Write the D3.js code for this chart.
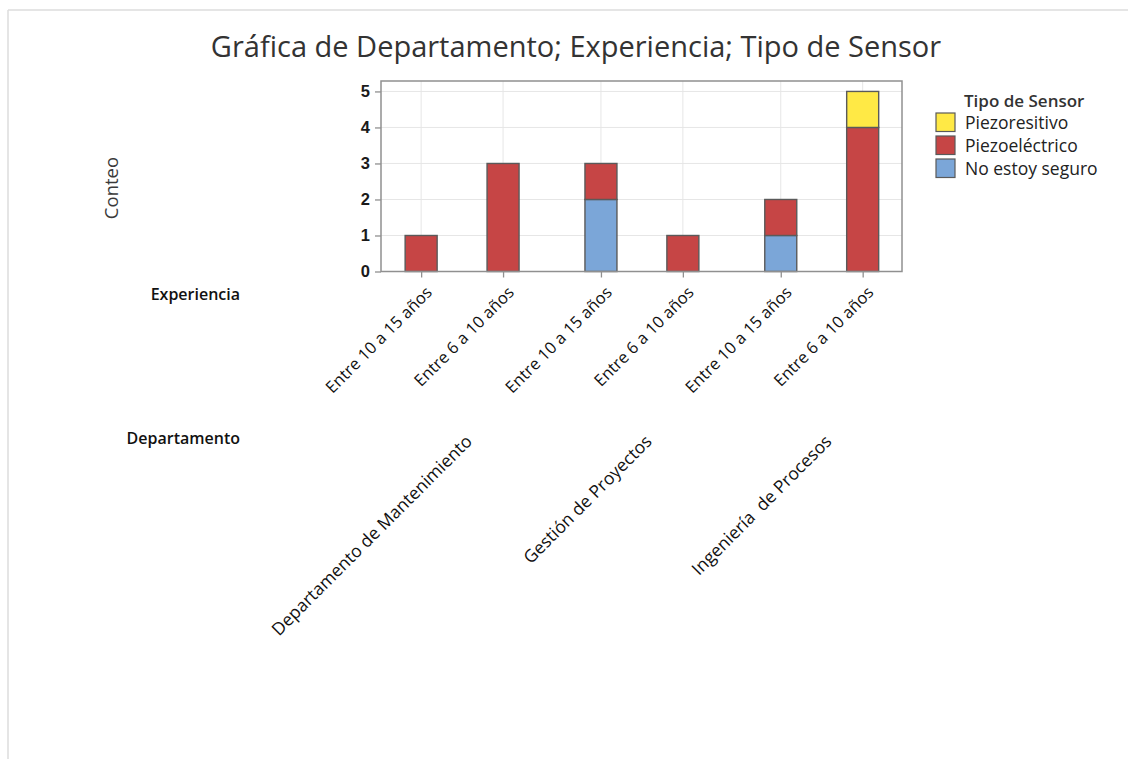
<!DOCTYPE html>
<html>
<head>
<meta charset="utf-8">
<script src="https://cdn.jsdelivr.net/npm/d3@7"></script>
<style>
  html, body { margin: 0; padding: 0; background: #fff; }
  svg { display: block; font-family: "Open Sans", "Noto Sans", sans-serif; }
  text { white-space: pre; }
</style>
</head>
<body>
<svg id="chart" width="1128" height="759"></svg>
<script>
// Categories: department groups and experience levels within each group
const departments = ["Departamento de Mantenimiento", "Gestión de Proyectos", "Ingeniería  de Procesos"];
const experience = ["Entre 10 a 15 años", "Entre 6 a 10 años"];

// Sensor types, bottom of the stack first
const sensorTypes = ["No estoy seguro", "Piezoeléctrico", "Piezoresitivo"];
const sensorColors = ["#7BA6D8", "#C64545", "#FFE945"];

// Counts per sensor type, one value per (department, experience) column
const noEstoySeguro  = [0, 0, 2, 0, 1, 0];
const piezoelectrico = [1, 3, 1, 1, 1, 4];
const piezoresitivo  = [0, 0, 0, 0, 0, 1];

const yTicks = [0, 1, 2, 3, 4, 5];

// Build one row per column from the arrays above
const columns = [];
departments.forEach((dep, g) => {
  experience.forEach((exp, j) => {
    const i = g * experience.length + j;
    columns.push({
      dep, exp, g, i,
      "No estoy seguro": noEstoySeguro[i],
      "Piezoeléctrico": piezoelectrico[i],
      "Piezoresitivo": piezoresitivo[i]
    });
  });
});

const svg = d3.select("#chart");

// Outer frame of the graph window
svg.append("line").attr("x1", 8).attr("y1", 10).attr("x2", 1128).attr("y2", 10)
  .attr("stroke", "#dcdcdc").attr("stroke-width", 1.5);
svg.append("line").attr("x1", 8).attr("y1", 10).attr("x2", 8).attr("y2", 759)
  .attr("stroke", "#dcdcdc").attr("stroke-width", 1.5);

const plot = { left: 381, right: 902, top: 81, bottom: 271.5 };
const groupGap = 0.195;

// Slot position: column index plus an extra gap between department groups
const slot = d => d.i + d.g * groupGap;
const lastSlot = (columns.length - 1) + (departments.length - 1) * groupGap;
const x = d3.scaleLinear().domain([-0.49, lastSlot + 0.48]).range([plot.left, plot.right]);
const y = d3.scaleLinear().domain([0, 5.29]).range([plot.bottom, plot.top]);
const barWidth = 32;

// Gridlines
const grid = svg.append("g");
grid.selectAll("line.h").data(yTicks.slice(1)).join("line")
  .attr("x1", plot.left).attr("x2", plot.right)
  .attr("y1", d => y(d)).attr("y2", d => y(d))
  .attr("stroke", "#e6e6e6").attr("stroke-width", 1);
grid.selectAll("line.v").data(columns).join("line")
  .attr("x1", d => x(slot(d))).attr("x2", d => x(slot(d)))
  .attr("y1", plot.top).attr("y2", plot.bottom)
  .attr("stroke", "#e6e6e6").attr("stroke-width", 1);

// Stacked bars
const stack = d3.stack().keys(sensorTypes);
const series = stack(columns);
const color = d3.scaleOrdinal().domain(sensorTypes).range(sensorColors);

svg.append("g").selectAll("g").data(series).join("g")
  .attr("fill", d => color(d.key))
  .selectAll("rect").data(d => d.filter(s => s[1] - s[0] > 0)).join("rect")
  .attr("x", s => x(slot(s.data)) - barWidth / 2)
  .attr("width", barWidth)
  .attr("y", s => y(s[1]))
  .attr("height", s => y(s[0]) - y(s[1]))
  .attr("stroke", "#5a5a5a").attr("stroke-width", 1.4);

// Plot frame
svg.append("rect")
  .attr("x", plot.left).attr("y", plot.top)
  .attr("width", plot.right - plot.left).attr("height", plot.bottom - plot.top)
  .attr("fill", "none").attr("stroke", "#909090").attr("stroke-width", 1.5);

// Y axis
const yAxis = svg.append("g")
  .attr("transform", `translate(${plot.left},0)`)
  .call(d3.axisLeft(y).tickValues(yTicks).tickFormat(d3.format("d")).tickSize(6).tickPadding(5));
yAxis.select(".domain").remove();
yAxis.selectAll(".tick line").attr("stroke", "#909090").attr("stroke-width", 1.3);
yAxis.selectAll(".tick text").attr("fill", "#1a1a1a")
  .style("font-size", "16.5px").style("font-weight", "600");

// X axis ticks at each column
const xAxis = svg.append("g")
  .attr("transform", `translate(0,${plot.bottom})`)
  .call(d3.axisBottom(x).tickValues(columns.map(slot)).tickFormat("").tickSize(6));
xAxis.select(".domain").remove();
xAxis.selectAll(".tick line").attr("stroke", "#909090").attr("stroke-width", 1.3);

// Experience labels (rotated)
svg.append("g").selectAll("text").data(columns).join("text")
  .attr("transform", d => `translate(${x(slot(d)) + 12},${plot.bottom + 22}) rotate(-45)`)
  .attr("text-anchor", "end")
  .attr("fill", "#111")
  .style("font-size", "16.5px")
  .text(d => d.exp);

// Department labels (rotated, centred on each group)
svg.append("g").selectAll("text").data(departments).join("text")
  .attr("transform", (d, g) => {
    const cx = (x(g * experience.length + g * groupGap) + x(g * experience.length + 1 + g * groupGap)) / 2;
    return `translate(${cx + 11},${plot.bottom + 171}) rotate(-45)`;
  })
  .attr("text-anchor", "end")
  .attr("fill", "#111")
  .style("font-size", "17.5px")
  .text(d => d);

// Row headers
svg.append("text").attr("x", 240).attr("y", 300).attr("text-anchor", "end")
  .attr("fill", "#111").style("font-size", "16px").style("font-weight", "600")
  .text("Experiencia");
svg.append("text").attr("x", 240).attr("y", 444).attr("text-anchor", "end")
  .attr("fill", "#111").style("font-size", "16px").style("font-weight", "600")
  .text("Departamento");

// Y axis title
svg.append("text")
  .attr("transform", `translate(118,188) rotate(-90)`)
  .attr("text-anchor", "middle")
  .attr("fill", "#3a3a3a")
  .style("font-size", "18.5px")
  .text("Conteo");

// Chart title
svg.append("text")
  .attr("x", 576).attr("y", 57)
  .attr("text-anchor", "middle")
  .attr("fill", "#333")
  .style("font-size", "29px")
  .text("Gráfica de Departamento; Experiencia; Tipo de Sensor");

// Legend, top entry is the top of the stack
const legend = svg.append("g").attr("transform", "translate(936,0)");
legend.append("text").attr("x", 28).attr("y", 107)
  .attr("fill", "#333").style("font-size", "17px").style("font-weight", "600")
  .text("Tipo de Sensor");
const legendItems = sensorTypes.slice().reverse();
legend.selectAll("rect").data(legendItems).join("rect")
  .attr("x", 0).attr("y", (d, k) => 113 + k * 23)
  .attr("width", 19).attr("height", 18.5)
  .attr("fill", d => color(d))
  .attr("stroke", "#5a5a5a").attr("stroke-width", 1.2);
legend.selectAll("text.item").data(legendItems).join("text")
  .attr("class", "item")
  .attr("x", 29).attr("y", (d, k) => 129 + k * 23)
  .attr("fill", "#222").style("font-size", "17.5px")
  .text(d => d);
</script>
</body>
</html>
